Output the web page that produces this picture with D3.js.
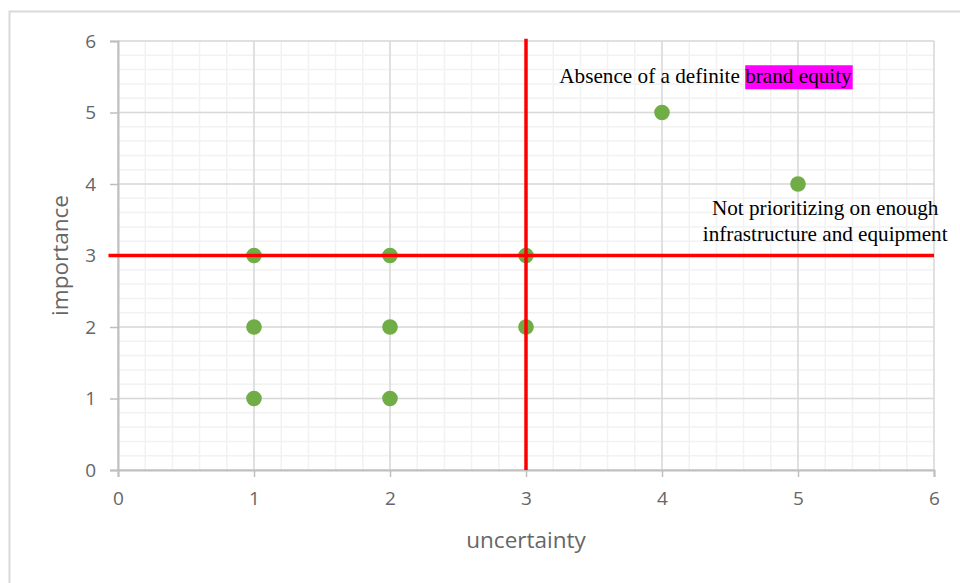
<!DOCTYPE html>
<html>
<head>
<meta charset="utf-8">
<script src="https://cdn.jsdelivr.net/npm/d3@7"></script>
<style>
  html, body { margin: 0; padding: 0; background: #fff; }
  svg { display: block; }
</style>
</head>
<body>
<svg id="chart" width="960" height="583"></svg>
<script>
// ---- data ----
const uncertainty = [1, 1, 1, 2, 2, 2, 3, 3, 4, 5];
const importance  = [3, 2, 1, 3, 2, 1, 3, 2, 5, 4];
const xTicks = [0, 1, 2, 3, 4, 5, 6];
const yTicks = [0, 1, 2, 3, 4, 5, 6];
const xTitle = "uncertainty";
const yTitle = "importance";
const dividerX = { x: [3, 3], y: [0, 6.03] };
const dividerY = { x: [-0.07, 6], y: [3, 3] };
const labelA = { x: 4.32, y: 5.5, before: "Absence of a definite ", highlight: "brand equity" };
const labelB = { x: 5.2, y: 3.56, lines: ["Not prioritizing on enough", "infrastructure and equipment"] };

(function () {
// ---- layout ----
const svg = d3.select("#chart");
const W = 960, H = 583;
const pL = 118, pR = 934, pT = 41, pB = 470;

const x = d3.scaleLinear().domain([0, 6]).range([pL, pR]);
const y = d3.scaleLinear().domain([0, 6]).range([pB, pT]);

// outer frame (top and left edges)
svg.append("path")
  .attr("d", `M9.5,${H} L9.5,11.5 L${W},11.5`)
  .attr("fill", "none").attr("stroke", "#d9d9d9").attr("stroke-width", 2);

// minor grid
const minor = d3.range(0, 6.0001, 0.2);
const g = svg.append("g");
g.selectAll(".mvx").data(minor).join("line")
  .attr("x1", d => x(d)).attr("x2", d => x(d))
  .attr("y1", pT).attr("y2", pB)
  .attr("stroke", "#f2f2f2").attr("stroke-width", 1.5);
g.selectAll(".mhy").data(minor).join("line")
  .attr("y1", d => y(d)).attr("y2", d => y(d))
  .attr("x1", pL).attr("x2", pR)
  .attr("stroke", "#f2f2f2").attr("stroke-width", 1.5);

// major grid
g.selectAll(".Mx").data(xTicks).join("line")
  .attr("x1", d => x(d)).attr("x2", d => x(d))
  .attr("y1", pT).attr("y2", pB)
  .attr("stroke", "#d9d9d9").attr("stroke-width", 1.5);
g.selectAll(".My").data(yTicks).join("line")
  .attr("y1", d => y(d)).attr("y2", d => y(d))
  .attr("x1", pL).attr("x2", pR)
  .attr("stroke", "#d9d9d9").attr("stroke-width", 1.5);

// axes
const xAxis = d3.axisBottom(x).tickValues(xTicks).tickSize(7).tickPadding(15).tickFormat(d3.format("d"));
const yAxis = d3.axisLeft(y).tickValues(yTicks).tickSize(8).tickPadding(14).tickFormat(d3.format("d"));

const gx = svg.append("g").attr("transform", `translate(0,${pB})`).call(xAxis);
const gy = svg.append("g").attr("transform", `translate(${pL},0)`).call(yAxis);
[gx, gy].forEach(a => {
  a.attr("font-size", 19).attr("font-family", "'Open Sans', 'Noto Sans', sans-serif");
  a.select(".domain").attr("stroke", "#bfbfbf").attr("stroke-width", 2);
  a.selectAll(".tick line").attr("stroke", "#bfbfbf").attr("stroke-width", 1.5);
  a.selectAll(".tick text").attr("fill", "#666666");
});

// axis titles
svg.append("text")
  .attr("x", (pL + pR) / 2).attr("y", 548)
  .attr("text-anchor", "middle")
  .attr("fill", "#666666")
  .attr("font-family", "'Open Sans', 'Noto Sans', sans-serif")
  .attr("font-size", 22.5)
  .text(xTitle);
svg.append("text")
  .attr("transform", `translate(68,${(pT + pB) / 2}) rotate(-90)`)
  .attr("text-anchor", "middle")
  .attr("fill", "#666666")
  .attr("font-family", "'Open Sans', 'Noto Sans', sans-serif")
  .attr("font-size", 22.5)
  .text(yTitle);

// points
svg.append("g").selectAll("circle").data(uncertainty.map((u, i) => [u, importance[i]])).join("circle")
  .attr("cx", d => x(d[0])).attr("cy", d => y(d[1]))
  .attr("r", 7.8)
  .attr("fill", "#70ad47");

// red dividers
const line = d3.line().x(d => x(d[0])).y(d => y(d[1]));
svg.append("path")
  .attr("d", line(dividerX.x.map((v, i) => [v, dividerX.y[i]])))
  .attr("stroke", "#ff0000").attr("stroke-width", 3.5).attr("fill", "none");
svg.append("path")
  .attr("d", line(dividerY.x.map((v, i) => [v, dividerY.y[i]])))
  .attr("stroke", "#ff0000").attr("stroke-width", 3.5).attr("fill", "none");

// annotations
const serif = "'Liberation Serif', 'Times New Roman', serif";
const fs = 21.2;
const hlRect = svg.append("rect").attr("fill", "#ff00ff");
const tA = svg.append("text")
  .attr("x", x(labelA.x)).attr("y", y(labelA.y) + 6.5)
  .attr("text-anchor", "middle")
  .attr("font-family", serif).attr("font-size", fs).attr("fill", "#000");
tA.append("tspan").text(labelA.before);
tA.append("tspan").text(labelA.highlight);
const full = tA.node().getBBox();
const beforeW = tA.node().getSubStringLength(0, labelA.before.length);
const hlW = tA.node().getSubStringLength(labelA.before.length, labelA.highlight.length);
hlRect
  .attr("x", full.x + beforeW).attr("y", full.y + 1)
  .attr("width", hlW + 1).attr("height", full.height);

const tB = svg.append("text")
  .attr("x", x(labelB.x)).attr("y", y(labelB.y))
  .attr("text-anchor", "middle")
  .attr("font-family", serif).attr("font-size", fs).attr("fill", "#000");
labelB.lines.forEach((s, i) => {
  tB.append("tspan").attr("x", x(labelB.x)).attr("dy", i === 0 ? 0 : 26).text(s);
});
})();
</script>
</body>
</html>
